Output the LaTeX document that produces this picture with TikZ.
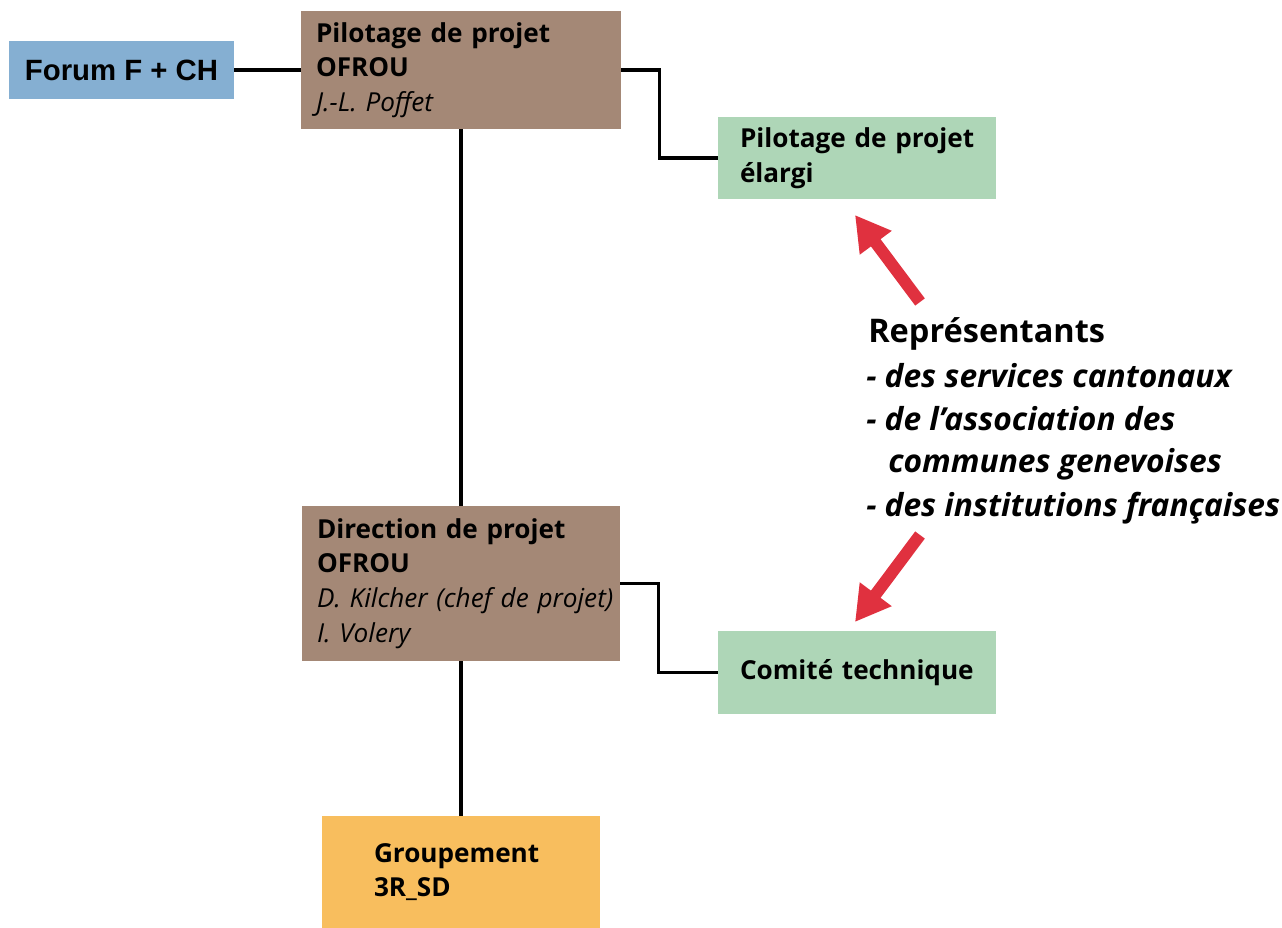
\documentclass[tikz,border=0pt]{standalone}
\usepackage{fontspec}
\setmainfont{Open Sans}
\newfontfamily\arialf{Liberation Sans}
\usetikzlibrary{arrows.meta}
\definecolor{brownbox}{RGB}{164,136,118}
\definecolor{bluebox}{RGB}{133,175,210}
\definecolor{greenbox}{RGB}{174,214,183}
\definecolor{orangebox}{RGB}{248,190,94}
\definecolor{arrred}{RGB}{224,49,63}
\newcommand{\bl}[1]{\mbox{\bfseries #1}}
\newcommand{\il}[1]{\mbox{\itshape #1}}
\tikzset{
  box/.style={rectangle, inner ysep=0pt, align=left, font=\fontsize{19.6}{26}\selectfont},
  conn/.style={line width=2.3pt, black},
  bigarrow/.style={line width=9pt, arrred, -{Triangle[length=26pt,width=28pt]}, shorten >=0pt},
  repr/.style={anchor=base west, inner sep=0pt},
  reprit/.style={repr, font=\itshape\bfseries\fontsize{23.8}{28}\selectfont}
}
\begin{document}
\begin{tikzpicture}[x=0.75pt,y=-0.75pt]
\useasboundingbox (0,0) rectangle (1282,928);
% boxes
\node[box, fill=bluebox, minimum width=225*0.75pt, minimum height=58*0.75pt, align=center, font=\arialf\bfseries\fontsize{22}{26}\selectfont] (forum) at (121.5,70) {Forum F + CH};
\node[box, fill=brownbox, text width=290*0.75pt, inner xsep=15*0.75pt, minimum height=118*0.75pt] (pil) at (461,70) {\bl{Pilotage de projet}\\\bl{OFROU}\\\il{J.-L. Poffet}};
\node[box, fill=greenbox, text width=234*0.75pt, inner xsep=22*0.75pt, minimum height=82*0.75pt] (elargi) at (857,158) {\bl{Pilotage de projet}\\\bl{élargi}};
\node[box, fill=brownbox, text width=288*0.75pt, inner xsep=15*0.75pt, minimum height=155*0.75pt] (dir) at (461,583.5) {\bl{Direction de projet}\\\bl{OFROU}\\\il{D. Kilcher (chef de projet)}\\\il{I. Volery}};
\node[box, fill=greenbox, text width=234*0.75pt, inner xsep=22*0.75pt, minimum height=83*0.75pt] (comite) at (857,672.5) {\bl{Comité technique}};
\node[box, fill=orangebox, text width=174*0.75pt, inner xsep=52*0.75pt, minimum height=112*0.75pt] (grp) at (461,872) {\bl{Groupement}\\\bl{3R\_SD}};
% connectors
\draw[conn] (forum.east) -- (forum.east -| pil.west);
\draw[conn] (pil.east) -- ++(38,0) |- (elargi.west);
\draw[conn] (pil.south) -- (dir.north);
\draw[conn] (dir.east) -- ++(38,0) |- (comite.west);
\draw[conn] (dir.south) -- (grp.north);
% representatives text
\node[repr, font=\bfseries\fontsize{24.4}{28}\selectfont] (r0) at (868,342) {Représentants};
\node[reprit] (r1) at (866,387) {- des services cantonaux};
\node[reprit] (r2) at (866,430) {- de l’association des};
\node[reprit] (r3) at (888,472) {communes genevoises};
\node[reprit] (r4) at (866,516) {- des institutions françaises};
% red arrows
\coordinate (a1s) at (920,302);
\coordinate (a1e) at (855,215);
\coordinate (a2s) at (920,535);
\coordinate (a2e) at (855,622);
\draw[bigarrow] (a1s) -- (a1e);
\draw[bigarrow] (a2s) -- (a2e);
\end{tikzpicture}
\end{document}
